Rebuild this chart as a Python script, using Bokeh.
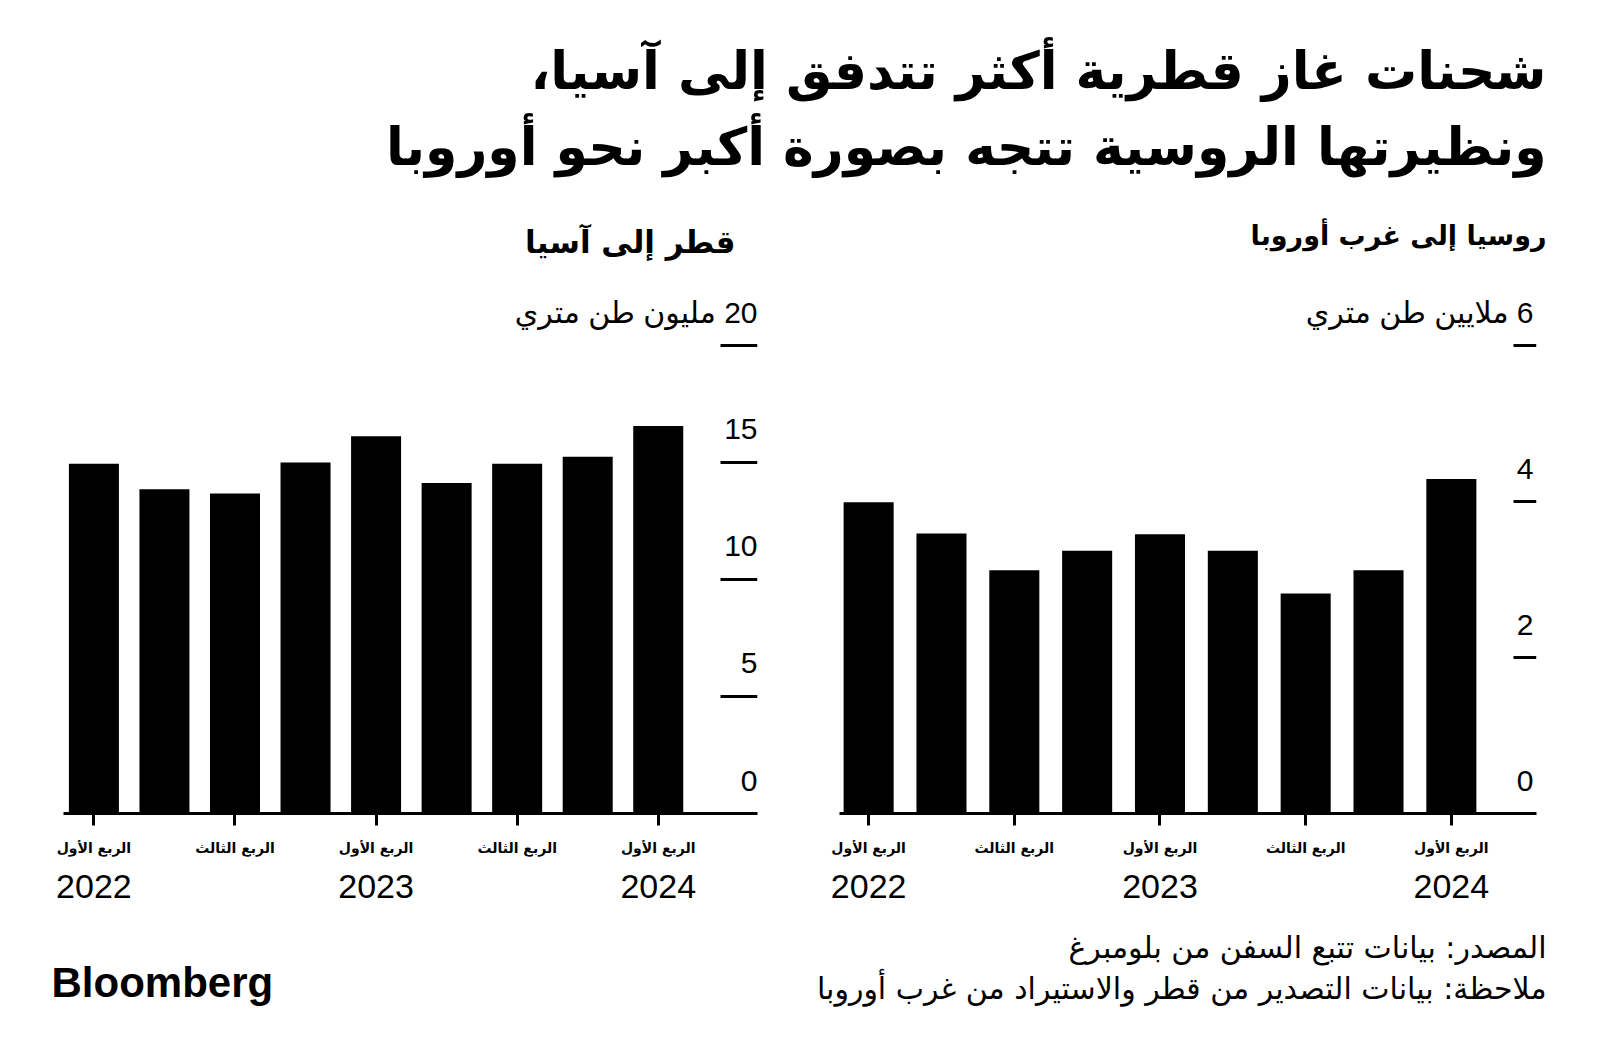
import math
from bokeh.plotting import figure
from bokeh.layouts import column, row
from bokeh.models import Range1d, FixedTicker, LinearAxis, ColumnDataSource
from bokeh.core.properties import value
from bokeh.embed import file_html
from bokeh.resources import INLINE

RLM = "\u200f"

# ---------------- data ----------------
title_lines = ["شحنات غاز قطرية أكثر تتدفق إلى آسيا،",
               "ونظيرتها الروسية تتجه بصورة أكبر نحو أوروبا"]
qatar_title = "قطر إلى آسيا"
russia_title = "روسيا إلى غرب أوروبا"

quarters = ["2022 Q1", "2022 Q2", "2022 Q3", "2022 Q4",
            "2023 Q1", "2023 Q2", "2023 Q3", "2023 Q4", "2024 Q1"]
qatar_asia = [14.95, 13.86, 13.68, 15.0, 16.12, 14.12, 14.95, 15.25, 16.56]
russia_europe = [3.99, 3.59, 3.12, 3.37, 3.58, 3.37, 2.82, 3.12, 4.29]

qatar_ticks = [0, 5, 10, 15, 20]
qatar_tick_labels = ["0", "5", "10", "15", "20 مليون طن متري"]
russia_ticks = [0, 2, 4, 6]
russia_tick_labels = ["0", "2", "4", "6 ملايين طن متري"]

quarter_ticks = [0, 2, 4, 6, 8]
quarter_labels = ["الربع الأول", "الربع الثالث", "الربع الأول", "الربع الثالث", "الربع الأول"]
year_ticks = [0, 4, 8]
year_labels = ["2022", "2023", "2024"]

source_text = "المصدر: بيانات تتبع السفن من بلومبرغ"
note_text = "ملاحظة: بيانات التصدير من قطر والاستيراد من غرب أوروبا"

AR = "DejaVu Sans"
NUM = "Liberation Sans, DejaVu Sans"


def make_chart(vals, ticks, tick_labels, xr, y_end, bar_w, b_left, b_right, frame_w,
               tick_len, lab_dx):
    p = figure(frame_width=frame_w, frame_height=543,
               x_range=Range1d(*xr), y_range=Range1d(0, y_end),
               output_backend="svg", toolbar_location=None,
               x_axis_location="below", y_axis_location=None,
               min_border_left=b_left, min_border_right=b_right,
               min_border_top=0, min_border_bottom=97)
    p.outline_line_color = None
    p.grid.visible = False
    p.background_fill_color = "white"
    p.border_fill_color = "white"

    src = ColumnDataSource(dict(x=list(range(len(vals))), top=vals, q=quarters))
    p.vbar(x="x", top="top", bottom=0, width=bar_w, fill_color="black",
           line_color=None, source=src)

    # value ticks: short horizontal marks ending at the right edge of the plot
    tsrc = ColumnDataSource(dict(x=[xr[1]] * (len(ticks) - 1), y=ticks[1:]))
    p.ray(x="x", y="y", length=tick_len, length_units="screen", angle=math.pi,
          line_color="black", line_width=3, source=tsrc)

    lsrc = ColumnDataSource(dict(
        x=[xr[1]] * len(ticks), y=ticks,
        t=[(RLM + t) if len(t) > 2 else t for t in tick_labels]))
    p.text(x="x", y="y", text="t", source=lsrc, text_align="right",
           text_baseline="middle", y_offset=-33, x_offset=lab_dx,
           text_font=value(NUM), text_font_size="30px", text_color="black")

    xa = p.xaxis[0]
    xa.ticker = FixedTicker(ticks=quarter_ticks)
    xa.major_label_overrides = {t: l for t, l in zip(quarter_ticks, quarter_labels)}
    xa.axis_line_width = 3
    xa.axis_line_color = "black"
    xa.major_tick_out = 12
    xa.major_tick_in = 0
    xa.major_tick_line_width = 3
    xa.major_tick_line_color = "black"
    xa.minor_tick_line_color = None
    xa.major_label_standoff = 14
    xa.major_label_text_font = AR
    xa.major_label_text_font_style = "bold"
    xa.major_label_text_font_size = "14px"
    xa.major_label_text_color = "black"

    yr = LinearAxis(ticker=FixedTicker(ticks=year_ticks),
                    major_label_overrides={t: l for t, l in zip(year_ticks, year_labels)},
                    axis_line_color=None, major_tick_line_color=None,
                    minor_tick_line_color=None, major_label_standoff=10,
                    major_label_text_font="Liberation Sans",
                    major_label_text_font_size="34px",
                    major_label_text_color="black")
    p.add_layout(yr, "below")
    return p


left = make_chart(qatar_asia, qatar_ticks, qatar_tick_labels, (-0.431, 9.407), 23.205,
                  0.709, 63, 43, 694, 37, 0)
right = make_chart(russia_europe, russia_ticks, russia_tick_labels, (-0.40, 9.169), 6.962,
                   0.687, 39, 64, 697, 23, -3)


def blank(h, y0, y1):
    f = figure(width=1600, height=h, x_range=Range1d(0, 1600), y_range=Range1d(y1, y0),
               output_backend="svg", toolbar_location=None,
               x_axis_location=None, y_axis_location=None, min_border=0)
    f.outline_line_color = None
    f.grid.visible = False
    return f


header = blank(270, 0, 270)
header.text(x=[1546, 1546], y=[70, 146], text=[title_lines[0] + RLM, title_lines[1]],
            text_align="right", text_baseline="middle", text_font=value(AR),
            text_font_style="bold", text_font_size="52px", text_color="black")
header.text(x=[735], y=[241], text=[qatar_title],
            text_align="right", text_baseline="middle", text_font=value(AR),
            text_font_style="bold", text_font_size="31px", text_color="black")
header.text(x=[1546], y=[235], text=[russia_title],
            text_align="right", text_baseline="middle", text_font=value(AR),
            text_font_style="bold", text_font_size="27px", text_color="black")

footer = blank(142, 910, 1052)
footer.text(x=[1546, 1546], y=[947, 988], text=[source_text, note_text],
            text_align="right", text_baseline="middle", text_font=value(AR),
            text_font_size="30px", text_color="black")
footer.text(x=[51], y=[982], text=["Bloomberg"], text_align="left",
            text_baseline="middle", text_font=value("Liberation Sans"),
            text_font_style="bold", text_font_size="42px", text_color="black")

layout = column(header, row(left, right), footer)
open("out.html", "w").write(file_html(layout, INLINE))
